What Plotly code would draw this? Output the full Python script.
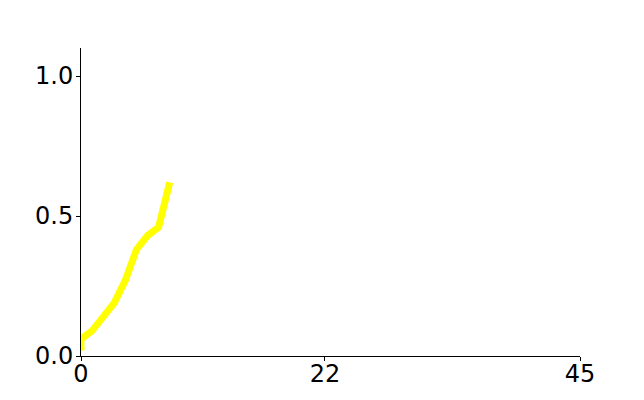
import plotly.graph_objects as go

x_vals = [0, 0, 1, 2, 3, 4, 5, 6, 7, 8]
y_vals = [0.02, 0.06, 0.09, 0.14, 0.19, 0.27, 0.38, 0.43, 0.46, 0.62]
x_ticks = [0, 22, 45]
y_ticks = [0.0, 0.5, 1.0]
y_tick_labels = ["0.0", "0.5", "1.0"]

fig = go.Figure()
fig.add_trace(go.Scatter(x=x_vals, y=y_vals, mode="lines",
                         line=dict(color="#FFFF00", width=7), showlegend=False))

fig.update_layout(
    width=644, height=400,
    margin=dict(l=73, r=72, t=40, b=52),
    paper_bgcolor="white", plot_bgcolor="white",
    font=dict(family="DejaVu Sans", size=24, color="black"),
)
fig.update_xaxes(range=[0, 45], tickvals=x_ticks, ticktext=[str(t) for t in x_ticks],
                 showgrid=False, zeroline=False, showline=True, linecolor="black",
                 linewidth=1, ticks="outside", ticklen=4, tickcolor="black",
                 ticklabelstandoff=-8)
fig.update_yaxes(range=[0, 1.1], tickvals=y_ticks, ticktext=y_tick_labels,
                 showgrid=False, zeroline=False, showline=True, linecolor="black",
                 linewidth=1, ticks="outside", ticklen=4, tickcolor="black",
                 ticklabelstandoff=-2)

fig.write_html("out.html")
